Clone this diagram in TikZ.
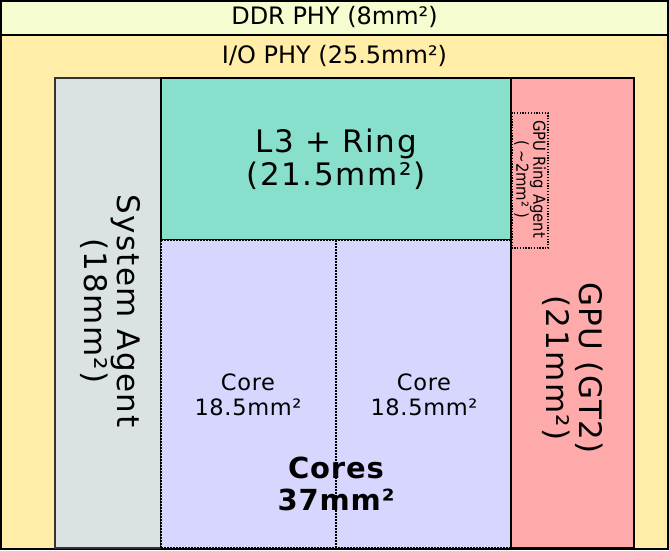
\documentclass[tikz,border=0pt]{standalone}
\usepackage{fontspec}
\setmainfont{DejaVu Sans}
\newfontfamily\bigsp[LetterSpace=5]{DejaVu Sans}
\newfontfamily\midsp[LetterSpace=3]{DejaVu Sans}
\newfontfamily\boldsp[LetterSpace=3]{DejaVu Sans Bold}
\definecolor{ddr}{RGB}{245,252,208}
\definecolor{iophy}{RGB}{255,237,168}
\definecolor{sa}{RGB}{218,226,227}
\definecolor{lthree}{RGB}{136,223,203}
\definecolor{cores}{RGB}{214,214,255}
\definecolor{gpu}{RGB}{255,170,170}
\tikzset{
  blk/.style={line width=1.5pt},
  dotline/.style={line width=1.5pt, dash pattern=on 1.5pt off 1.5pt},
  toplabel/.style={font=\fontsize{24}{28}\selectfont, inner sep=0pt},
  biglabel/.style={font=\bigsp\fontsize{31}{33}\selectfont, align=center, inner sep=0pt},
  corelabel/.style={font=\midsp\fontsize{22.5}{25}\selectfont, align=center, inner sep=0pt},
  boldlabel/.style={font=\boldsp\fontsize{29}{32}\selectfont, align=center, inner sep=0pt},
}
\begin{document}
\begin{tikzpicture}[x=1pt,y=-1pt]
\useasboundingbox (0,0) rectangle (669,550);
% background zones
\fill[iophy] (0,0) rectangle (669,550);
\fill[ddr] (1,1) rectangle (668,35);
\draw[line width=2pt] (0,35) -- (669,35);
\draw[line width=2pt] (1,1) rectangle (668,549);
% blocks
\filldraw[fill=sa, draw=black!80, blk] (55,78) rectangle (161,548);
\filldraw[fill=lthree, draw=black, blk] (161,78) rectangle (511,240);
\fill[cores] (161,240) rectangle (511,548);
\draw[dotline] (161,240) -- (511,240);
\draw[dotline] (161,548) -- (511,548);
\draw[dotline] (161,240) -- (161,548);
\draw[dotline] (336,240) -- (336,548);
\filldraw[fill=gpu, draw=black, line width=2.5pt] (511,78) rectangle (634,548);
\draw[dotline] (511,240) -- (511,548);
\draw[line width=1.3pt, dash pattern=on 1.3pt off 1.5pt] (512,113) rectangle (548,248);
% labels
\node[toplabel] (ddrlab) at (334.5,17) {DDR PHY (8mm²)};
\node[toplabel] (iolab) at (334.5,56) {I/O PHY (25.5mm²)};
\node[biglabel] (l3lab) at (336,159) {L3 + Ring\\(21.5mm²)};
\node[biglabel, rotate=-90] (salab) at (110,311) {System Agent\\(18mm²)};
\node[biglabel, rotate=-90] (gpulab) at (573,368) {GPU (GT2)\\(21mm²)};
\node[corelabel] (core1) at (248,395) {Core\\18.5mm²};
\node[corelabel] (core2) at (424,395) {Core\\18.5mm²};
\node[boldlabel] (coreslab) at (336,484) {Cores\\37mm²};
\node[rotate=-90, align=center, inner sep=0pt, font=\fontsize{16.5}{15.5}\selectfont] (ringlab) at (530,179) {\scalebox{0.9}[1]{GPU Ring Agent}\\\scalebox{0.9}[1]{( \textasciitilde2mm² )}};
\end{tikzpicture}
\end{document}
